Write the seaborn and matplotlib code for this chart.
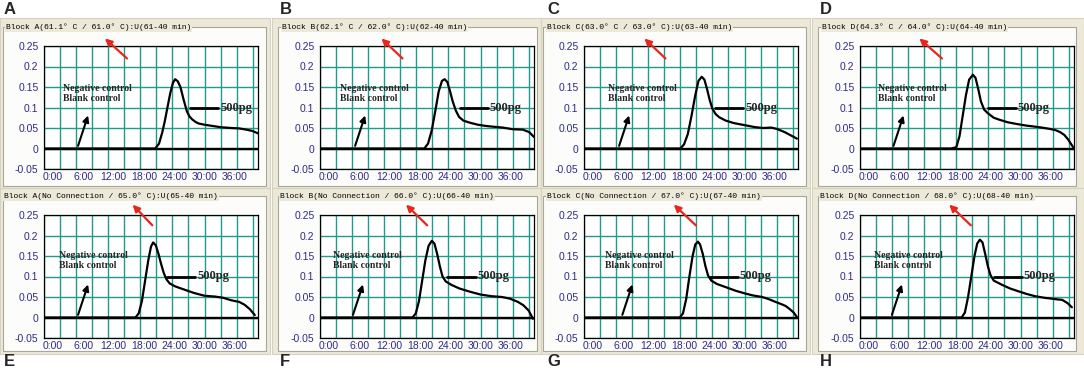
import numpy as np
import pandas as pd
import seaborn as sns
import matplotlib.pyplot as plt
from matplotlib.patches import Rectangle

sns.set_style("white")
plt.rcParams['font.family'] = ['Liberation Sans', 'DejaVu Sans']

# ---- data ----
letters_top = ['A', 'B', 'C', 'D']
letters_bot = ['E', 'F', 'G', 'H']
titles = ['Block A(61.1° C / 61.0° C):U(61-40 min)',
          'Block B(62.1° C / 62.0° C):U(62-40 min)',
          'Block C(63.0° C / 63.0° C):U(63-40 min)',
          'Block D(64.3° C / 64.0° C):U(64-40 min)',
          'Block A(No Connection / 65.0° C):U(65-40 min)',
          'Block B(No Connection / 66.0° C):U(66-40 min)',
          'Block C(No Connection / 67.0° C):U(67-40 min)',
          'Block D(No Connection / 68.0° C):U(68-40 min)']

t_A = [0, 20.8, 21.5, 22.1, 22.6, 23.0, 23.6, 24.1, 24.5, 25.0, 25.5, 26.1, 26.7, 27.2, 27.7, 28.3, 28.9, 30.0, 31.5, 33.0, 35.0, 36.5, 37.8, 38.9, 40.0]
v_A = [0, 0, 0.012, 0.039, 0.068, 0.095, 0.135, 0.160, 0.169, 0.164, 0.150, 0.119, 0.091, 0.078, 0.071, 0.065, 0.061, 0.058, 0.055, 0.052, 0.050, 0.049, 0.046, 0.043, 0.037]
t_B = [0, 19.5, 20.2, 20.9, 21.6, 22.2, 22.8, 23.3, 23.8, 24.3, 24.8, 25.4, 26.0, 26.8, 28.0, 29.5, 31.0, 32.5, 34.2, 36.0, 37.9, 39.1, 40.0]
v_B = [0, 0, 0.012, 0.045, 0.095, 0.140, 0.165, 0.169, 0.162, 0.140, 0.115, 0.092, 0.077, 0.068, 0.063, 0.058, 0.055, 0.053, 0.051, 0.047, 0.046, 0.040, 0.028]
t_C = [0, 18.0, 18.7, 19.4, 20.1, 20.8, 21.4, 22.0, 22.5, 23.0, 23.5, 24.0, 24.6, 25.3, 26.5, 28.0, 30.0, 32.0, 33.5, 35.0, 36.0, 37.5, 38.8, 39.8]
v_C = [0, 0, 0.010, 0.035, 0.080, 0.130, 0.165, 0.175, 0.168, 0.145, 0.118, 0.097, 0.084, 0.076, 0.068, 0.062, 0.057, 0.052, 0.050, 0.051, 0.048, 0.040, 0.031, 0.024]
t_D = [0, 17.0, 18.0, 18.6, 19.2, 19.8, 20.4, 21.1, 21.6, 22.1, 22.6, 23.2, 23.9, 25.0, 26.1, 27.6, 29.2, 31.0, 32.3, 34.0, 35.4, 36.5, 37.4, 38.2, 38.9, 39.5, 40.0]
v_D = [0, 0, 0.003, 0.030, 0.080, 0.130, 0.168, 0.180, 0.172, 0.145, 0.115, 0.095, 0.086, 0.075, 0.070, 0.064, 0.060, 0.056, 0.054, 0.051, 0.048, 0.045, 0.040, 0.033, 0.022, 0.010, 0.0]
t_E = [0, 17.1, 17.7, 18.3, 18.9, 19.5, 20.0, 20.4, 20.9, 21.4, 21.9, 22.4, 22.9, 23.5, 24.5, 26.0, 28.0, 30.0, 32.0, 33.5, 35.0, 36.5, 37.5, 38.5, 39.4]
v_E = [0, 0, 0.010, 0.040, 0.090, 0.140, 0.173, 0.183, 0.176, 0.155, 0.130, 0.108, 0.093, 0.083, 0.076, 0.069, 0.060, 0.053, 0.051, 0.048, 0.042, 0.038, 0.031, 0.020, 0.006]
t_F = [0, 17.3, 17.9, 18.5, 19.1, 19.7, 20.3, 20.9, 21.4, 21.9, 22.4, 22.9, 23.5, 24.5, 26.0, 28.0, 30.0, 32.0, 34.0, 35.5, 37.0, 38.0, 39.0, 39.8]
v_F = [0, 0, 0.010, 0.040, 0.090, 0.140, 0.175, 0.187, 0.180, 0.155, 0.125, 0.100, 0.088, 0.080, 0.071, 0.063, 0.056, 0.052, 0.050, 0.046, 0.038, 0.030, 0.017, -0.003]
t_G = [0, 17.9, 18.5, 19.1, 19.7, 20.3, 20.8, 21.3, 21.7, 22.2, 22.7, 23.2, 23.8, 24.8, 26.5, 28.4, 30.0, 31.5, 33.3, 34.5, 35.8, 37.0, 37.7, 38.5, 39.2, 39.8]
v_G = [0, 0, 0.010, 0.045, 0.100, 0.150, 0.178, 0.185, 0.178, 0.155, 0.125, 0.102, 0.090, 0.082, 0.074, 0.065, 0.059, 0.054, 0.050, 0.045, 0.038, 0.032, 0.028, 0.020, 0.012, 0.001]
t_H = [0, 19.0, 19.6, 20.2, 20.8, 21.4, 21.9, 22.4, 22.9, 23.4, 23.9, 24.4, 25.0, 26.5, 28.0, 29.6, 31.0, 32.7, 34.5, 35.8, 37.0, 37.8, 38.8, 39.6]
v_H = [0, 0, 0.012, 0.050, 0.100, 0.150, 0.180, 0.190, 0.183, 0.155, 0.125, 0.103, 0.090, 0.080, 0.071, 0.064, 0.058, 0.052, 0.048, 0.046, 0.044, 0.043, 0.035, 0.025]
curves = [(t_A, v_A), (t_B, v_B), (t_C, v_C), (t_D, v_D),
          (t_E, v_E), (t_F, v_F), (t_G, v_G), (t_H, v_H)]

y_ticks = [-0.05, 0, 0.05, 0.1, 0.15, 0.2, 0.25]
y_labels = ['-0.05', '0', '0.05', '0.1', '0.15', '0.2', '0.25']
x_labels = ['0:00', '6:00', '12:00', '18:00', '24:00', '30:00', '36:00']

# annotation anchors (minutes) per panel
neg_arrow_x = [6.2, 6.4, 6.4, 6.1, 6.2, 6.0, 7.0, 5.8]
neg_text_x = [3.6, 3.7, 4.4, 3.4, 2.8, 2.5, 4.0, 2.7]
pg_line_x = [27.3, 26.1, 24.5, 23.9, 23.0, 23.8, 23.5, 25.0]
red_tail_x = [15.9, 15.8, 15.6, 15.7, 20.6, 20.4, 21.3, 21.1]
red_head_x = [11.0, 11.1, 10.9, 10.7, 16.2, 15.7, 16.4, 16.3]

# ---- layout in pixels ----
W, H = 1084, 372
fig = plt.figure(figsize=(10.84, 3.72), dpi=100)
bg = fig.add_axes([0, 0, 1, 1])
bg.set_xlim(0, W)
bg.set_ylim(H, 0)
bg.axis('off')

beige = '#ece9d8'
win_x = [(0, 270), (272, 541), (541, 810), (812, 1084)]
box_x = [(3, 266), (278, 537), (543, 806), (818, 1076)]
win_y = [(18, 188), (188, 354)]
box_y = [(27, 186), (196, 351)]
ax_left = [44, 320, 584, 860]
ax_top = [46, 215]
ax_w, ax_h = 214, 123
letter_x = [4, 280, 547, 820]
letter_y = [10, 362]
title_x = [6, 282, 547, 822, 4, 280, 547, 820]

for r in range(2):
    for c in range(4):
        x0, x1 = win_x[c]
        bg.add_patch(Rectangle((x0, win_y[r][0]), x1 - x0, win_y[r][1] - win_y[r][0],
                               facecolor=beige, edgecolor='#d6d2c2', lw=0.8))
        bx0, bx1 = box_x[c]
        bg.add_patch(Rectangle((bx0, box_y[r][0]), bx1 - bx0, box_y[r][1] - box_y[r][0],
                               facecolor='#fcfcfa', edgecolor='#a9a597', lw=0.8))
        i = r * 4 + c
        bg.text(title_x[i], box_y[r][0], titles[i], family='Liberation Mono', fontsize=5.8,
                va='center', ha='left', color='#000000',
                bbox=dict(facecolor=beige, edgecolor='none', pad=0.6))

for c in range(4):
    bg.text(letter_x[c], letter_y[0], letters_top[c], fontsize=12, fontweight='bold', va='center')
    bg.text(letter_x[c], letter_y[1], letters_bot[c], fontsize=12, fontweight='bold', va='center')

teal = '#1f9a8b'
tick_col = '#2e2a8a'
red = '#e8261c'
label_pos = np.linspace(1.7, 35.7, 7)

for i, (t, v) in enumerate(curves):
    r, c = divmod(i, 4)
    ax = fig.add_axes([ax_left[c] / W, 1 - (ax_top[r] + ax_h) / H, ax_w / W, ax_h / H])
    ax.set_facecolor('white')
    sns.lineplot(x=t, y=v, ax=ax, color='black', lw=1.6, estimator=None, sort=False, zorder=4)
    ax.axhline(0, color='black', lw=1.7, zorder=3)
    ax.set_xlim(0, 40)
    ax.set_ylim(-0.05, 0.25)
    ax.set_xticks(np.arange(0, 40, 3))
    ax.set_xticklabels([])
    ax.set_xticks(label_pos, x_labels, minor=True)
    ax.set_yticks(y_ticks, y_labels)
    ax.grid(True, which='major', color=teal, lw=1.0)
    ax.tick_params(axis='both', which='major', length=2.5, width=0.8, color='black',
                   labelsize=7.5, labelcolor=tick_col, pad=1.5)
    ax.tick_params(axis='x', which='minor', length=0, labelsize=7.5, labelcolor=tick_col, pad=2)
    for s in ax.spines.values():
        s.set_color('black')
        s.set_linewidth(0.9)
    ax.set_xlabel('')
    ax.set_ylabel('')

    ny = 0.135 if r == 0 else 0.14
    ax.text(neg_text_x[i], ny, 'Negative control\nBlank control', family='Liberation Serif',
            fontweight='bold', fontsize=7, va='center', ha='left', linespacing=1.15, zorder=5)
    ax.annotate('', xy=(neg_arrow_x[i] + 2.2, 0.087), xytext=(neg_arrow_x[i], 0),
                arrowprops=dict(arrowstyle='-|>', color='black', lw=1.5, mutation_scale=9), zorder=5)
    ax.plot([pg_line_x[i], pg_line_x[i] + 5.3], [0.1, 0.1], color='black', lw=2.0, zorder=5)
    ax.text(pg_line_x[i] + 5.6, 0.1, '500pg', family='Liberation Serif', fontweight='bold',
            fontsize=9, va='center', ha='left', zorder=5)
    ty, hy = (0.215, 0.273) if r == 0 else (0.22, 0.28)
    ax.annotate('', xy=(red_head_x[i], hy), xytext=(red_tail_x[i], ty),
                arrowprops=dict(arrowstyle='-|>', color=red, lw=1.6, mutation_scale=10),
                annotation_clip=False, zorder=6)

fig.savefig('out.png', dpi=100)
